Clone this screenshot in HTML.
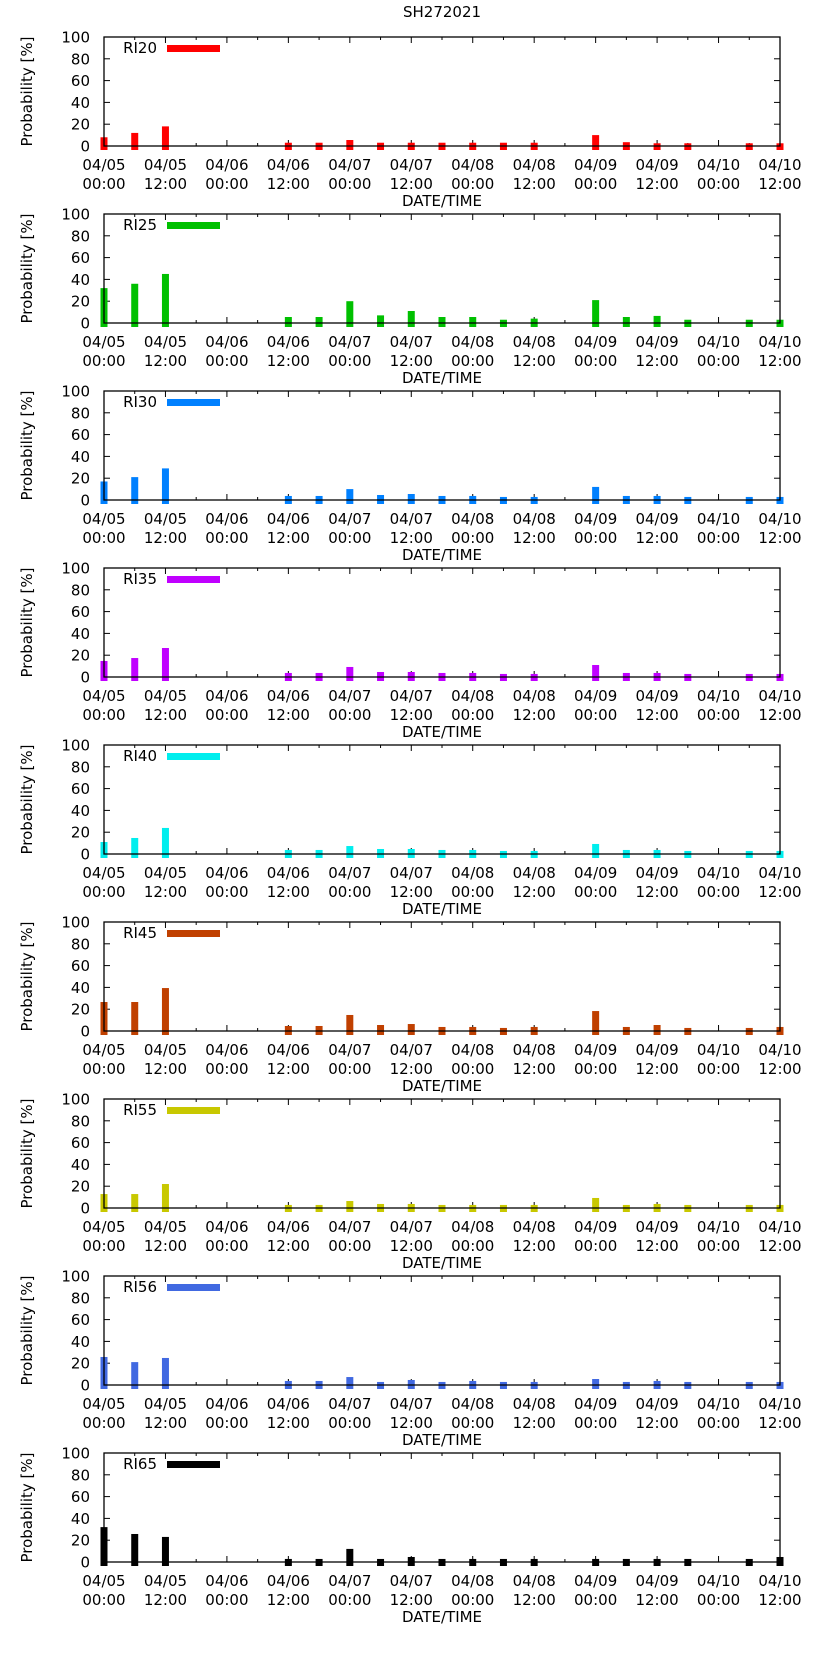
<!DOCTYPE html>
<html><head><meta charset="utf-8">
<style>
html,body{margin:0;padding:0;background:#fff;}
svg{display:block;font-family:"DejaVu Sans","Liberation Sans",sans-serif;}
</style></head>
<body>
<svg id="chart" width="823" height="1653" viewBox="0 0 823 1653" xmlns="http://www.w3.org/2000/svg">
<text x="442" y="17" font-size="15" text-anchor="middle" fill="#000">SH272021</text>
</svg>
<script>
const hours = [0,6,12,36,42,48,54,60,66,72,78,84,96,102,108,114,126,132];
const seriesNames = ["RI20","RI25","RI30","RI35","RI40","RI45","RI55","RI56","RI65"];
const seriesColors = ["#ff0000","#00c000","#0080ff","#c000ff","#00eeee","#c04000","#c8c800","#4169e1","#000000"];
const ri20 = [8,12,18,3,3,5.5,3,3,3,3,3,3,10,3.5,2.5,2.5,2.5,2.5];
const ri25 = [32,36,45,5.5,5.5,20,7,11,5.5,5.5,3,4,21,5.5,6.5,3,3,3];
const ri30 = [17,21,29,3.7,3.7,10,4.6,5.5,3.7,3.7,2.8,2.8,12,3.7,3.7,2.8,2.8,2.8];
const ri35 = [14.7,17.4,26.6,3.7,3.7,9.2,4.6,4.6,3.7,3.7,2.8,2.8,11,3.7,3.7,2.8,2.8,2.8];
const ri40 = [11,14.7,23.9,3.7,3.7,7.3,4.6,4.6,3.7,3.7,2.8,2.8,9.2,3.7,3.7,2.8,2.8,2.8];
const ri45 = [26.6,26.6,39.4,4.6,4.6,14.7,5.5,6.4,3.7,3.7,2.8,3.7,18.3,3.7,5.5,2.8,2.8,3.7];
const ri55 = [12.8,12.8,22,2.8,2.8,6.4,3.7,3.7,2.8,2.8,2.8,2.8,9.2,2.8,3.7,2.8,2.8,2.8];
const ri56 = [25.7,21,24.8,3.7,3.7,7.3,2.8,4.6,2.8,3.7,2.8,2.8,5.5,2.8,3.7,2.8,2.8,2.8];
const ri65 = [32,25.7,23,2.8,2.8,12,2.8,4.6,2.8,2.8,2.8,2.8,2.8,2.8,2.8,2.8,2.8,4.6];
const yTicks = [0,20,40,60,80,100];
const xTickDates = ["04/05","04/05","04/06","04/06","04/07","04/07","04/08","04/08","04/09","04/09","04/10","04/10"];
const xTickTimes = ["00:00","12:00","00:00","12:00","00:00","12:00","00:00","12:00","00:00","12:00","00:00","12:00"];
const allSeries = [ri20,ri25,ri30,ri35,ri40,ri45,ri55,ri56,ri65];

const NS="http://www.w3.org/2000/svg";
const svg=document.getElementById('chart');
const L=104,R=780,H0=132;
function xs(h){return L+(R-L)*h/H0;}
function mk(tag,attrs,parent){const e=document.createElementNS(NS,tag);for(const k in attrs)e.setAttribute(k,attrs[k]);(parent||svg).appendChild(e);return e;}

allSeries.forEach((vals,p)=>{
  const top=37+177*p, zero=top+109;
  const ys=v=>zero-109*v/100;
  const g=mk('g',{});
  
  
  // ticks first (under bars)
  yTicks.forEach(t=>{
    const y=ys(t);
    mk('line',{x1:L,x2:L+6,y1:y,y2:y,stroke:'#000'},g);
    mk('line',{x1:R,x2:R-6,y1:y,y2:y,stroke:'#000'},g);
    const tx=mk('text',{x:90,y:y+5.5,'font-size':15,'text-anchor':'end',fill:'#000'},g);
    tx.textContent=t;
    
    
  });
  for(let h=0;h<=H0;h+=6){
    const x=xs(h), len=(h%12===0)?6:3;
    mk('line',{x1:x,x2:x,y1:zero,y2:zero-len,stroke:'#000'},g);
    mk('line',{x1:x,x2:x,y1:top,y2:top+len,stroke:'#000'},g);
  }
  // bars
  vals.forEach((v,i)=>{
    const x=xs(hours[i]);
    const r=mk('rect',{x:x-3.5,y:ys(v),width:7,height:zero+4-ys(v),fill:seriesColors[p]},g);
    
    
  });
  // frame
  const fr=mk('rect',{x:L,y:top,width:R-L,height:109,fill:'none',stroke:'#000','stroke-width':1.3},g);
  
  
  xTickDates.forEach((d,i)=>{
    const x=xs(i*12);
    const t1=mk('text',{x:x,y:zero+24,'font-size':15,'text-anchor':'middle',fill:'#000'},g);
    t1.textContent=d;
    
    
    const t2=mk('text',{x:x,y:zero+43,'font-size':15,'text-anchor':'middle',fill:'#000'},g);
    t2.textContent=xTickTimes[i];
    
    
  });
  const xt=mk('text',{x:442,y:zero+60,'font-size':15,'text-anchor':'middle',fill:'#000'},g);
  xt.textContent='DATE/TIME';
  
  
  const cy=top+54.5;
  const yt=mk('text',{x:0,y:0,'font-size':15,'text-anchor':'middle',fill:'#000',transform:'translate(32,'+cy+') rotate(-90)'},g);
  yt.textContent='Probability [%]';
  
  
  // legend
  const bg=mk('rect',{x:118,y:top+3,width:42,height:15,fill:'#fff'},g);
  
  
  const lt=mk('text',{x:157,y:top+16,'font-size':15,'text-anchor':'end',fill:'#000'},g);
  lt.textContent=seriesNames[p];
  
  
  const ls=mk('rect',{x:167,y:top+8,width:53,height:7,fill:seriesColors[p]},g);
  
  
});
</script>
</body></html>
